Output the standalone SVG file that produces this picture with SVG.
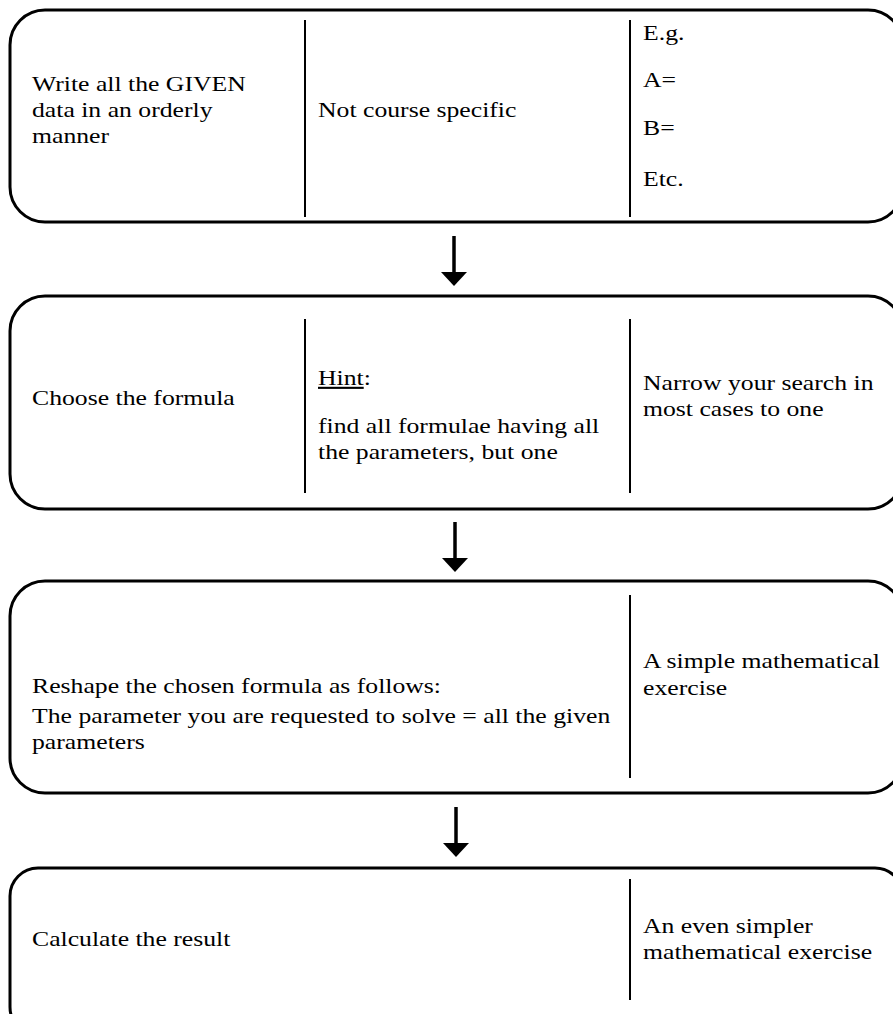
<svg xmlns="http://www.w3.org/2000/svg" width="893" height="1014" viewBox="0 0 893 1014">
<defs>
<style>
.box{fill:#fff;stroke:#000;stroke-width:3}
.div{stroke:#000;stroke-width:2}
.t{font-family:"Liberation Serif","Times New Roman",serif;font-size:21px;fill:#000}
.arr{stroke:#000;stroke-width:3.5;fill:none}
</style>
<marker id="head" viewBox="0 0 14 26" refX="1" refY="13" markerWidth="14" markerHeight="26" markerUnits="userSpaceOnUse" orient="auto">
<path d="M0,0 L14,13 L0,26 Z" fill="#000"/>
</marker>
</defs>
<rect width="893" height="1014" fill="#fff"/>
<g id="node1">
<rect class="box" x="10" y="10" width="893" height="212" rx="35" ry="35"/>
<line class="div" x1="305" y1="20" x2="305" y2="217"/>
<line class="div" x1="630" y1="20" x2="630" y2="217"/>
<text class="t" transform="translate(32,91) scale(1.224,1)"><tspan x="0" y="0">Write all the GIVEN</tspan><tspan x="0" y="26">data in an orderly</tspan><tspan x="0" y="52">manner</tspan></text>
<text class="t" transform="translate(318,117) scale(1.224,1)">Not course specific</text>
<text class="t" transform="translate(643,40) scale(1.224,1)"><tspan x="0" y="0">E.g.</tspan><tspan x="0" y="47">A=</tspan><tspan x="0" y="95">B=</tspan><tspan x="0" y="146">Etc.</tspan></text>
</g>
<g id="node2">
<rect class="box" x="10" y="296" width="893" height="213" rx="35" ry="35"/>
<line class="div" x1="305" y1="319" x2="305" y2="493"/>
<line class="div" x1="630" y1="319" x2="630" y2="493"/>
<text class="t" transform="translate(32,405) scale(1.224,1)">Choose the formula</text>
<text class="t" transform="translate(318,385) scale(1.224,1)"><tspan x="0" y="0" text-decoration="underline">Hint</tspan><tspan>:</tspan><tspan x="0" y="48">find all formulae having all</tspan><tspan x="0" y="74">the parameters, but one</tspan></text>
<text class="t" transform="translate(643,390) scale(1.224,1)"><tspan x="0" y="0">Narrow your search in</tspan><tspan x="0" y="26">most cases to one</tspan></text>
</g>
<g id="node3">
<rect class="box" x="10" y="581" width="893" height="212" rx="35" ry="35"/>
<line class="div" x1="630" y1="595" x2="630" y2="778"/>
<text class="t" transform="translate(32,693) scale(1.224,1)"><tspan x="0" y="0">Reshape the chosen formula as follows:</tspan><tspan x="0" y="30">The parameter you are requested to solve = all the given</tspan><tspan x="0" y="56">parameters</tspan></text>
<text class="t" transform="translate(643,668) scale(1.224,1)"><tspan x="0" y="0">A simple mathematical</tspan><tspan x="0" y="27">exercise</tspan></text>
</g>
<g id="node4">
<rect class="box" x="10" y="868" width="893" height="167" rx="28" ry="28"/>
<line class="div" x1="630" y1="879" x2="630" y2="1000"/>
<text class="t" transform="translate(32,946) scale(1.224,1)">Calculate the result</text>
<text class="t" transform="translate(643,933) scale(1.224,1)"><tspan x="0" y="0">An even simpler</tspan><tspan x="0" y="26">mathematical exercise</tspan></text>
</g>
<g id="connectors">
<line class="arr" x1="454" y1="236" x2="454" y2="273" marker-end="url(#head)"/>
<line class="arr" x1="455" y1="522" x2="455" y2="559" marker-end="url(#head)"/>
<line class="arr" x1="456" y1="807" x2="456" y2="844" marker-end="url(#head)"/>
</g>
</svg>
